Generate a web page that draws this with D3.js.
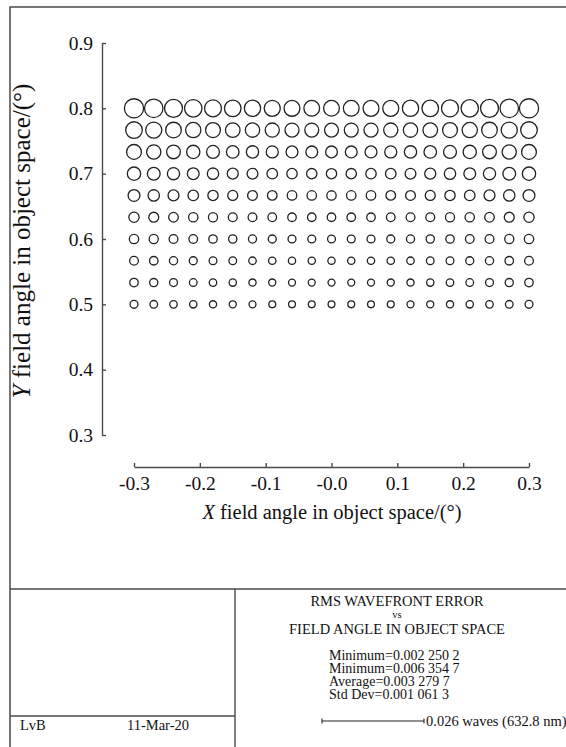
<!DOCTYPE html>
<html>
<head>
<meta charset="utf-8">
<script src="https://cdn.jsdelivr.net/npm/d3@7"></script>
<style>
    html, body { margin: 0; padding: 0; background: #fff; }
    svg { display: block; font-family: "Liberation Serif", "Times New Roman", serif; }
</style>
</head>
<body>
<div id="chart"></div>
<script>
"use strict";

// field angles (degrees) of the sampled grid
var XFields = [-0.3, -0.27, -0.24, -0.21, -0.18, -0.15, -0.12, -0.09, -0.06, -0.03, 0,
    0.03, 0.06, 0.09, 0.12, 0.15, 0.18, 0.21, 0.24, 0.27, 0.3];
var YFields = [0.8, 0.7667, 0.7333, 0.7, 0.6667, 0.6333, 0.6, 0.5667, 0.5333, 0.5];

var Rms080 = [0.00635, 0.00612, 0.00594, 0.00577, 0.00561, 0.00549, 0.00538, 0.00531, 0.00525, 0.00521, 0.00520,
    0.00521, 0.00526, 0.00530, 0.00538, 0.00549, 0.00562, 0.00576, 0.00594, 0.00613, 0.00635];
var Rms077 = [0.00550, 0.00533, 0.00518, 0.00504, 0.00492, 0.00483, 0.00474, 0.00468, 0.00464, 0.00461, 0.00460,
    0.00461, 0.00464, 0.00468, 0.00474, 0.00483, 0.00492, 0.00504, 0.00518, 0.00533, 0.00550];
var Rms073 = [0.00490, 0.00471, 0.00454, 0.00439, 0.00426, 0.00415, 0.00406, 0.00399, 0.00394, 0.00391, 0.00390,
    0.00391, 0.00394, 0.00399, 0.00406, 0.00415, 0.00426, 0.00439, 0.00454, 0.00471, 0.00490];
var Rms070 = [0.00440, 0.00421, 0.00404, 0.00389, 0.00376, 0.00365, 0.00356, 0.00349, 0.00344, 0.00341, 0.00340,
    0.00341, 0.00344, 0.00349, 0.00356, 0.00365, 0.00376, 0.00389, 0.00404, 0.00421, 0.00440];
var Rms067 = [0.00390, 0.00375, 0.00361, 0.00349, 0.00339, 0.00330, 0.00323, 0.00317, 0.00313, 0.00311, 0.00310,
    0.00311, 0.00313, 0.00317, 0.00323, 0.00330, 0.00339, 0.00349, 0.00361, 0.00375, 0.00390];
var Rms063 = [0.00340, 0.00329, 0.00318, 0.00309, 0.00302, 0.00295, 0.00290, 0.00285, 0.00282, 0.00281, 0.00280,
    0.00281, 0.00282, 0.00285, 0.00290, 0.00295, 0.00302, 0.00309, 0.00318, 0.00329, 0.00340];
var Rms060 = [0.00310, 0.00301, 0.00292, 0.00285, 0.00278, 0.00273, 0.00268, 0.00265, 0.00262, 0.00261, 0.00260,
    0.00261, 0.00262, 0.00265, 0.00268, 0.00273, 0.00278, 0.00285, 0.00292, 0.00301, 0.00310];
var Rms057 = [0.00290, 0.00281, 0.00272, 0.00265, 0.00258, 0.00253, 0.00248, 0.00245, 0.00242, 0.00241, 0.00240,
    0.00241, 0.00242, 0.00245, 0.00248, 0.00253, 0.00258, 0.00265, 0.00272, 0.00281, 0.00290];
var Rms053 = [0.00280, 0.00271, 0.00262, 0.00255, 0.00248, 0.00243, 0.00238, 0.00235, 0.00232, 0.00231, 0.00230,
    0.00231, 0.00232, 0.00235, 0.00238, 0.00243, 0.00248, 0.00255, 0.00262, 0.00271, 0.00280];
var Rms050 = [0.00260, 0.00253, 0.00247, 0.00242, 0.00238, 0.00234, 0.00231, 0.00228, 0.00226, 0.00225, 0.00225,
    0.00225, 0.00226, 0.00228, 0.00231, 0.00234, 0.00238, 0.00242, 0.00247, 0.00253, 0.00260];
var RmsRows = [Rms080, Rms077, Rms073, Rms070, Rms067, Rms063, Rms060, Rms057, Rms053, Rms050];

var XTickValues = [-0.3, -0.2, -0.1, 0, 0.1, 0.2, 0.3];
var XTickLabels = ["-0.3", "-0.2", "-0.1", "-0.0", "0.1", "0.2", "0.3"];
var YTickValues = [0.3, 0.4, 0.5, 0.6, 0.7, 0.8, 0.9];
var YTickLabels = ["0.3", "0.4", "0.5", "0.6", "0.7", "0.8", "0.9"];

var TitleLines = ["RMS WAVEFRONT ERROR", "vs", "FIELD ANGLE IN OBJECT SPACE"];
var StatLines = ["Minimum=0.002 250 2", "Minimum=0.006 354 7", "Average=0.003 279 7", "Std Dev=0.001 061 3"];
var ScaleLabel = "0.026 waves (632.8 nm)";
var Author = "LvB";
var DateLabel = "11-Mar-20";

var Width = 566, Height = 747;
var LineColor = "#4a4a4a";
var Serif = "'Liberation Serif', 'Times New Roman', serif";

var svg = d3.select("#chart").append("svg")
    .attr("width", Width)
    .attr("height", Height);

var x = d3.scaleLinear().domain([-0.3, 0.3]).range([134, 529]);
var y = d3.scaleLinear().domain([0.3, 0.9]).range([435, 43]);
var r = d3.scaleLinear().domain([0, 0.00635]).range([0, 9.6]);

drawFrame();
drawAxes();
drawCircles();
drawTable();

function drawFrame() {
    svg.append("path")
        .attr("d", "M" + 568 + "," + 7 + "H" + 10 + "V" + 749)
        .attr("fill", "none")
        .attr("stroke", LineColor)
        .attr("stroke-width", 1.5);
}

function drawAxes() {
    var xAxis = d3.axisBottom(x)
        .tickValues(XTickValues)
        .tickFormat(function (d, i) { return XTickLabels[i]; })
        .tickSizeInner(-4)
        .tickSizeOuter(0)
        .tickPadding(9);

    var yAxis = d3.axisLeft(y)
        .tickValues(YTickValues)
        .tickFormat(function (d, i) { return YTickLabels[i]; })
        .tickSizeInner(-4)
        .tickSizeOuter(0)
        .tickPadding(9);

    var gx = svg.append("g").attr("transform", "translate(0,467)").call(xAxis);
    var gy = svg.append("g").attr("transform", "translate(102,0)").call(yAxis);

    [gx, gy].forEach(function (g) {
        g.attr("font-family", Serif).attr("font-size", 19.5);
        g.selectAll("path, line").attr("stroke", LineColor).attr("stroke-width", 1.4);
        g.selectAll("text")
            .attr("fill", "#111")
            .style("font-family", Serif)
            .style("font-size", "19.5px");
    });

    var xt = svg.append("text")
        .attr("x", 332)
        .attr("y", 519)
        .attr("text-anchor", "middle")
        .attr("fill", "#111")
        .style("font-size", "20.5px");
    xt.append("tspan").style("font-style", "italic").text("X");
    xt.append("tspan").text(" field angle in object space/(\u00b0)");

    var yt = svg.append("text")
        .attr("transform", "translate(30,241) rotate(-90)")
        .attr("text-anchor", "middle")
        .attr("fill", "#111")
        .style("font-size", "25px");
    yt.append("tspan").style("font-style", "italic").text("Y");
    yt.append("tspan").text(" field angle in object space/(\u00b0)");
}

function drawCircles() {
    var cells = [];
    YFields.forEach(function (yf, i) {
        XFields.forEach(function (xf, j) {
            cells.push({x: xf, y: yf, v: RmsRows[i][j]});
        });
    });

    svg.append("g")
        .selectAll("circle")
        .data(cells)
        .enter()
        .append("circle")
        .attr("cx", function (d) { return x(d.x); })
        .attr("cy", function (d) { return y(d.y); })
        .attr("r", function (d) { return r(d.v); })
        .attr("fill", "none")
        .attr("stroke", "#222")
        .attr("stroke-width", 1.3);
}

function label(px, py, size, anchor, txt) {
    return svg.append("text")
        .attr("x", px)
        .attr("y", py)
        .attr("text-anchor", anchor)
        .attr("fill", "#111")
        .style("font-size", size + "px")
        .text(txt);
}

function drawTable() {
    var g = svg.append("g")
        .attr("stroke", LineColor)
        .attr("stroke-width", 1.4);
    g.append("line").attr("x1", 10).attr("x2", 568).attr("y1", 589).attr("y2", 589);
    g.append("line").attr("x1", 235).attr("x2", 235).attr("y1", 589).attr("y2", 749);
    g.append("line").attr("x1", 10).attr("x2", 235).attr("y1", 716).attr("y2", 716);

    var titleY = [606, 618, 634];
    var titleSize = [14.5, 10.5, 14.5];
    TitleLines.forEach(function (t, i) {
        label(397, titleY[i], titleSize[i], "middle", t);
    });

    StatLines.forEach(function (t, i) {
        label(329, 660 + i * 13, 14, "start", t);
    });

    // scale bar
    var bar = svg.append("g").attr("stroke", "#222").attr("stroke-width", 1.1);
    bar.append("line").attr("x1", 322).attr("x2", 424).attr("y1", 721).attr("y2", 721);
    bar.append("line").attr("x1", 322).attr("x2", 322).attr("y1", 718.5).attr("y2", 723.5);
    bar.append("line").attr("x1", 424).attr("x2", 424).attr("y1", 718.5).attr("y2", 723.5);

    label(426, 726, 14.5, "start", ScaleLabel);
    label(20, 730, 14.5, "start", Author);
    label(127, 730, 14.5, "start", DateLabel);
}
</script>
</body>
</html>
